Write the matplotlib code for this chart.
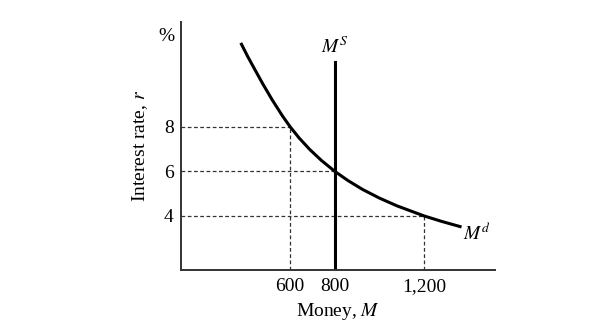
import matplotlib.pyplot as plt

plt.rcParams['font.family'] = ['Liberation Serif', 'DejaVu Serif']
plt.rcParams['mathtext.fontset'] = 'stix'

# money demand curve
money = [382, 410, 440, 476, 520, 566, 600, 640, 688, 740, 800,
         860, 926, 1000, 1079, 1200, 1280, 1362]
rate = [11.7, 11.15, 10.6, 9.95, 9.2, 8.48, 8.0, 7.5, 6.98, 6.49, 6.0,
        5.58, 5.18, 4.8, 4.45, 4.0, 3.75, 3.52]

supply = 800
supply_top = 10.9

# points marked with dashed guides
guide_m = [600, 800, 1200]
guide_r = [8, 6, 4]

xticks = [600, 800, 1200]
xtick_labels = ['600', '800', '1,200']
yticks = [4, 6, 8]

fig = plt.figure(figsize=(6.15, 3.23), dpi=100)
ax = fig.add_axes([0.294, 0.164, 0.511, 0.768])
xmin, xmax = 110, 1519
ymin, ymax = 1.57, 12.7
ax.set_xlim(xmin, xmax)
ax.set_ylim(ymin, ymax)

for m, r in zip(guide_m, guide_r):
    ax.plot([xmin, m], [r, r], ls=(0, (3, 2)), color='#333333', lw=0.9)
    ax.plot([m, m], [ymin, r], ls=(0, (3, 2)), color='#333333', lw=0.9)

ax.plot(money, rate, color='black', lw=2.2, solid_joinstyle='round')
ax.plot([supply, supply], [ymin, supply_top], color='black', lw=2.2)

ax.text(supply, supply_top + 0.25, r'$M^S$', ha='center', va='bottom', fontsize=14)
ax.text(money[-1] + 12, rate[-1] - 0.3, r'$M^d$', ha='left', va='center', fontsize=14)

for side in ['top', 'right']:
    ax.spines[side].set_visible(False)
for side in ['left', 'bottom']:
    ax.spines[side].set_color('#333333')
    ax.spines[side].set_linewidth(1.4)

ax.set_xticks(xticks)
ax.set_xticklabels(xtick_labels)
ax.set_yticks(yticks)
ax.tick_params(length=0, labelsize=14)
ax.tick_params(axis='x', pad=6)
ax.tick_params(axis='y', pad=5)

ax.text(-0.02, 0.94, '%', transform=ax.transAxes, ha='right', va='center', fontsize=14)
ax.set_ylabel('Interest rate, $r$', fontsize=14, labelpad=10)
ax.set_xlabel('Money, $M$', fontsize=14, labelpad=4)

fig.savefig('out.png', dpi=100)
